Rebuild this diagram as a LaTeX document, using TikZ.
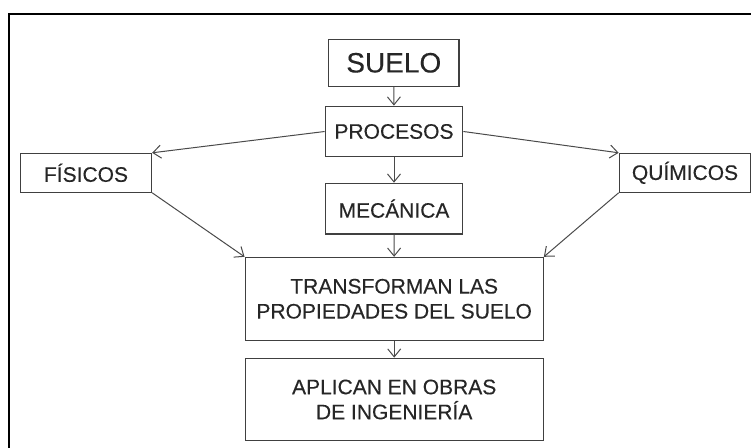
\documentclass[tikz,border=0pt]{standalone}
\usepackage{fontspec}
\setmainfont{Liberation Sans}
\newfontfamily\boxfont{Liberation Sans}[FakeBold=0.25]
\usetikzlibrary{arrows.meta}
\definecolor{boxline}{HTML}{404040}
\definecolor{arrline}{HTML}{4A4A4A}
\definecolor{txt}{HTML}{262626}
\begin{document}
\begin{tikzpicture}[x=1pt,y=-1pt,
  box/.style={draw=boxline,line width=1.3pt,fill=white,inner sep=0pt,text=txt,align=center,font=\boxfont\fontsize{21}{25}\selectfont},
  conn/.style={draw=arrline,line width=1pt,-{Straight Barb[length=8pt,width=13pt]}}]
\useasboundingbox (0,0) rectangle (751,447);
\clip (0,0) rectangle (751,447);
\draw[line width=2pt,black] (8.6,460) -- (8.6,14) -- (770,14);
\node[box,minimum width=130.5pt,minimum height=47.3pt,font=\boxfont\fontsize{28}{32}\selectfont] (suelo) at (393.8,62.8) {SUELO};
\node[box,minimum width=137.5pt,minimum height=50.5pt] (procesos) at (394,131.5) {PROCESOS};
\node[box,minimum width=137pt,minimum height=50.7pt] (mecanica) at (394,208.7) {MECÁNICA};
\node[box,minimum width=131pt,minimum height=38.7pt] (fisicos) at (86,172.8) {FÍSICOS};
\node[box,minimum width=131.4pt,minimum height=38.7pt] (quimicos) at (685,172.8) {QUÍMICOS};
\node[box,minimum width=298pt,minimum height=82.7pt] (transf) at (394.2,298.8) {TRANSFORMAN LAS\\PROPIEDADES DEL SUELO};
\node[box,minimum width=298pt,minimum height=82.4pt] (aplican) at (394.2,399.5) {APLICAN EN OBRAS\\DE INGENIERÍA};
\draw[conn] (suelo) -- (procesos);
\draw[conn] (procesos) -- (mecanica);
\draw[conn] (procesos.west) -- (fisicos.north east);
\draw[conn] (procesos.east) -- (quimicos.north west);
\draw[conn] (fisicos.south east) -- (transf.north west);
\draw[conn] (quimicos.south west) -- (transf.north east);
\draw[conn] (mecanica) -- (transf);
\draw[conn] (transf) -- (aplican);
\end{tikzpicture}
\end{document}
